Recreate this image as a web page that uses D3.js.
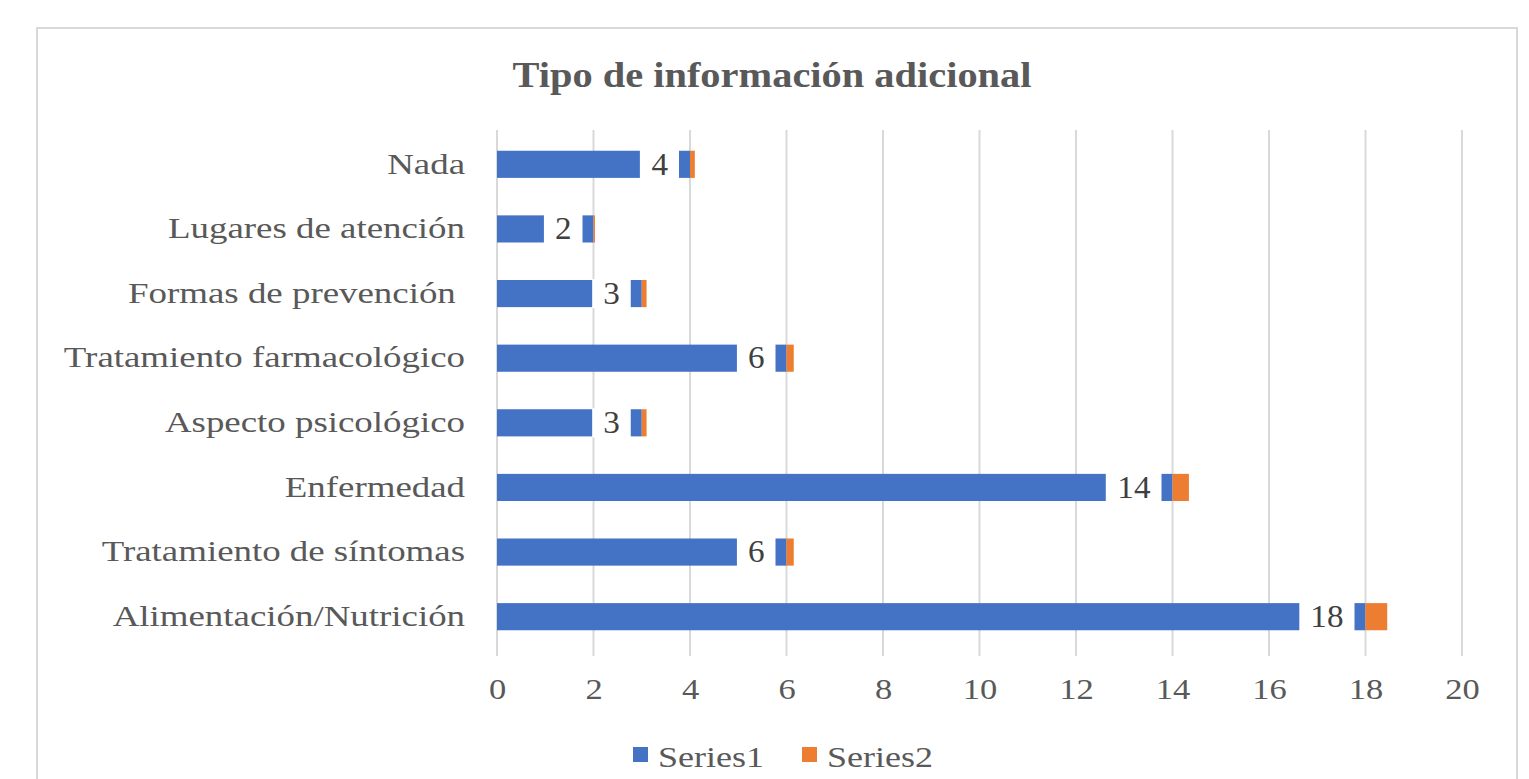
<!DOCTYPE html>
<html><head><meta charset="utf-8">
<script src="https://cdn.jsdelivr.net/npm/d3@7"></script>
<style>body{margin:0;background:#fff}svg{display:block}</style>
</head><body>
<svg id="c" width="1529" height="779"></svg>
<script>
const categories = ["Nada","Lugares de atención","Formas de prevención ","Tratamiento farmacológico","Aspecto psicológico","Enfermedad","Tratamiento de síntomas","Alimentación/Nutrición"];
const series1 = [4,2,3,6,3,14,6,18];
const series2 = [0.1,0.03,0.1,0.15,0.1,0.34,0.15,0.45];
const seriesNames = ["Series1","Series2"];
const colors = ["#4472C4","#ED7D31"];
const xTicks = [0,2,4,6,8,10,12,14,16,18,20];

const svg = d3.select("#c");
const font = "'Liberation Serif','Times New Roman',serif";
function stretch(sel, k){
  sel.each(function(){
    const t = d3.select(this);
    const x0 = +(t.attr("x") || 0);
    t.attr("transform", `translate(${x0},0) scale(${k},1) translate(${-x0},0)`);
  });
}
svg.append("rect").attr("x",37).attr("y",28).attr("width",1480).attr("height",770)
  .attr("fill","#fff").attr("stroke","#d9d9d9").attr("stroke-width",2);

const title = svg.append("text").attr("x",772).attr("y",87).attr("text-anchor","middle")
  .attr("font-family",font).attr("font-weight","bold").attr("font-size",35).attr("fill","#595959")
  .text("Tipo de información adicional");
stretch(title,1.155);

const x = d3.scaleLinear().domain([0,20]).range([497,1462]);
const y = d3.scaleBand().domain(categories).range([132,649]).paddingInner(0.58).paddingOuter(0.29);

// gridlines
svg.append("g").selectAll("line").data(xTicks).join("line")
  .attr("x1",d=>x(d)).attr("x2",d=>x(d)).attr("y1",130).attr("y2",656)
  .attr("stroke","#d9d9d9").attr("stroke-width",2);

// bars
const stackData = categories.map((c,i)=>({cat:c,s1:series1[i],s2:series2[i]}));
const stack = d3.stack().keys(["s1","s2"])(stackData);
svg.append("g").selectAll("g").data(stack).join("g").attr("fill",(d,i)=>colors[i])
  .selectAll("rect").data(d=>d).join("rect")
  .attr("x",d=>x(d[0])).attr("width",d=>Math.max(0,x(d[1])-x(d[0])))
  .attr("y",d=>y(d.data.cat)).attr("height",y.bandwidth());

// data labels
const lg = svg.append("g");
const kL = 1.07;
stackData.forEach(d=>{
  const xe = x(d.s1)-22;
  const t = lg.append("text").attr("x",xe).attr("y",y(d.cat)+y.bandwidth()/2)
    .attr("dy","0.33em").attr("text-anchor","end").attr("font-family",font).attr("font-size",31)
    .attr("fill","#404040").text(d.s1);
  const bb = t.node().getBBox();
  const w = bb.width*kL;
  stretch(t,kL);
  lg.insert("rect","text").attr("x",xe-w-11).attr("y",y(d.cat)-1).attr("width",w+22)
    .attr("height",y.bandwidth()+2).attr("fill","#fff");
});

// category labels
const yAxis = svg.append("g").attr("transform","translate(497,0)")
  .call(d3.axisLeft(y).tickSize(0).tickPadding(32));
yAxis.select(".domain").remove();
yAxis.selectAll("text").attr("font-family",font).attr("font-size",30).attr("fill","#595959")
  .attr("dy","0.31em").style("white-space","pre");
stretch(yAxis.selectAll("text"),1.23);

// x axis
const xAxis = svg.append("g").attr("transform","translate(0,656)")
  .call(d3.axisBottom(x).tickValues(xTicks).tickSize(0).tickPadding(22));
xAxis.select(".domain").remove();
xAxis.selectAll("text").attr("font-family",font).attr("font-size",30).attr("fill","#595959");
stretch(xAxis.selectAll("text"),1.15);

// legend
const legX = [633,802];
seriesNames.forEach((n,i)=>{
  svg.append("rect").attr("x",legX[i]).attr("y",747).attr("width",15).attr("height",15).attr("fill",colors[i]);
  const t = svg.append("text").attr("x",legX[i]+25).attr("y",767)
    .attr("font-family",font).attr("font-size",30).attr("fill","#595959").text(n);
  stretch(t,1.2);
});
</script>
</body></html>
